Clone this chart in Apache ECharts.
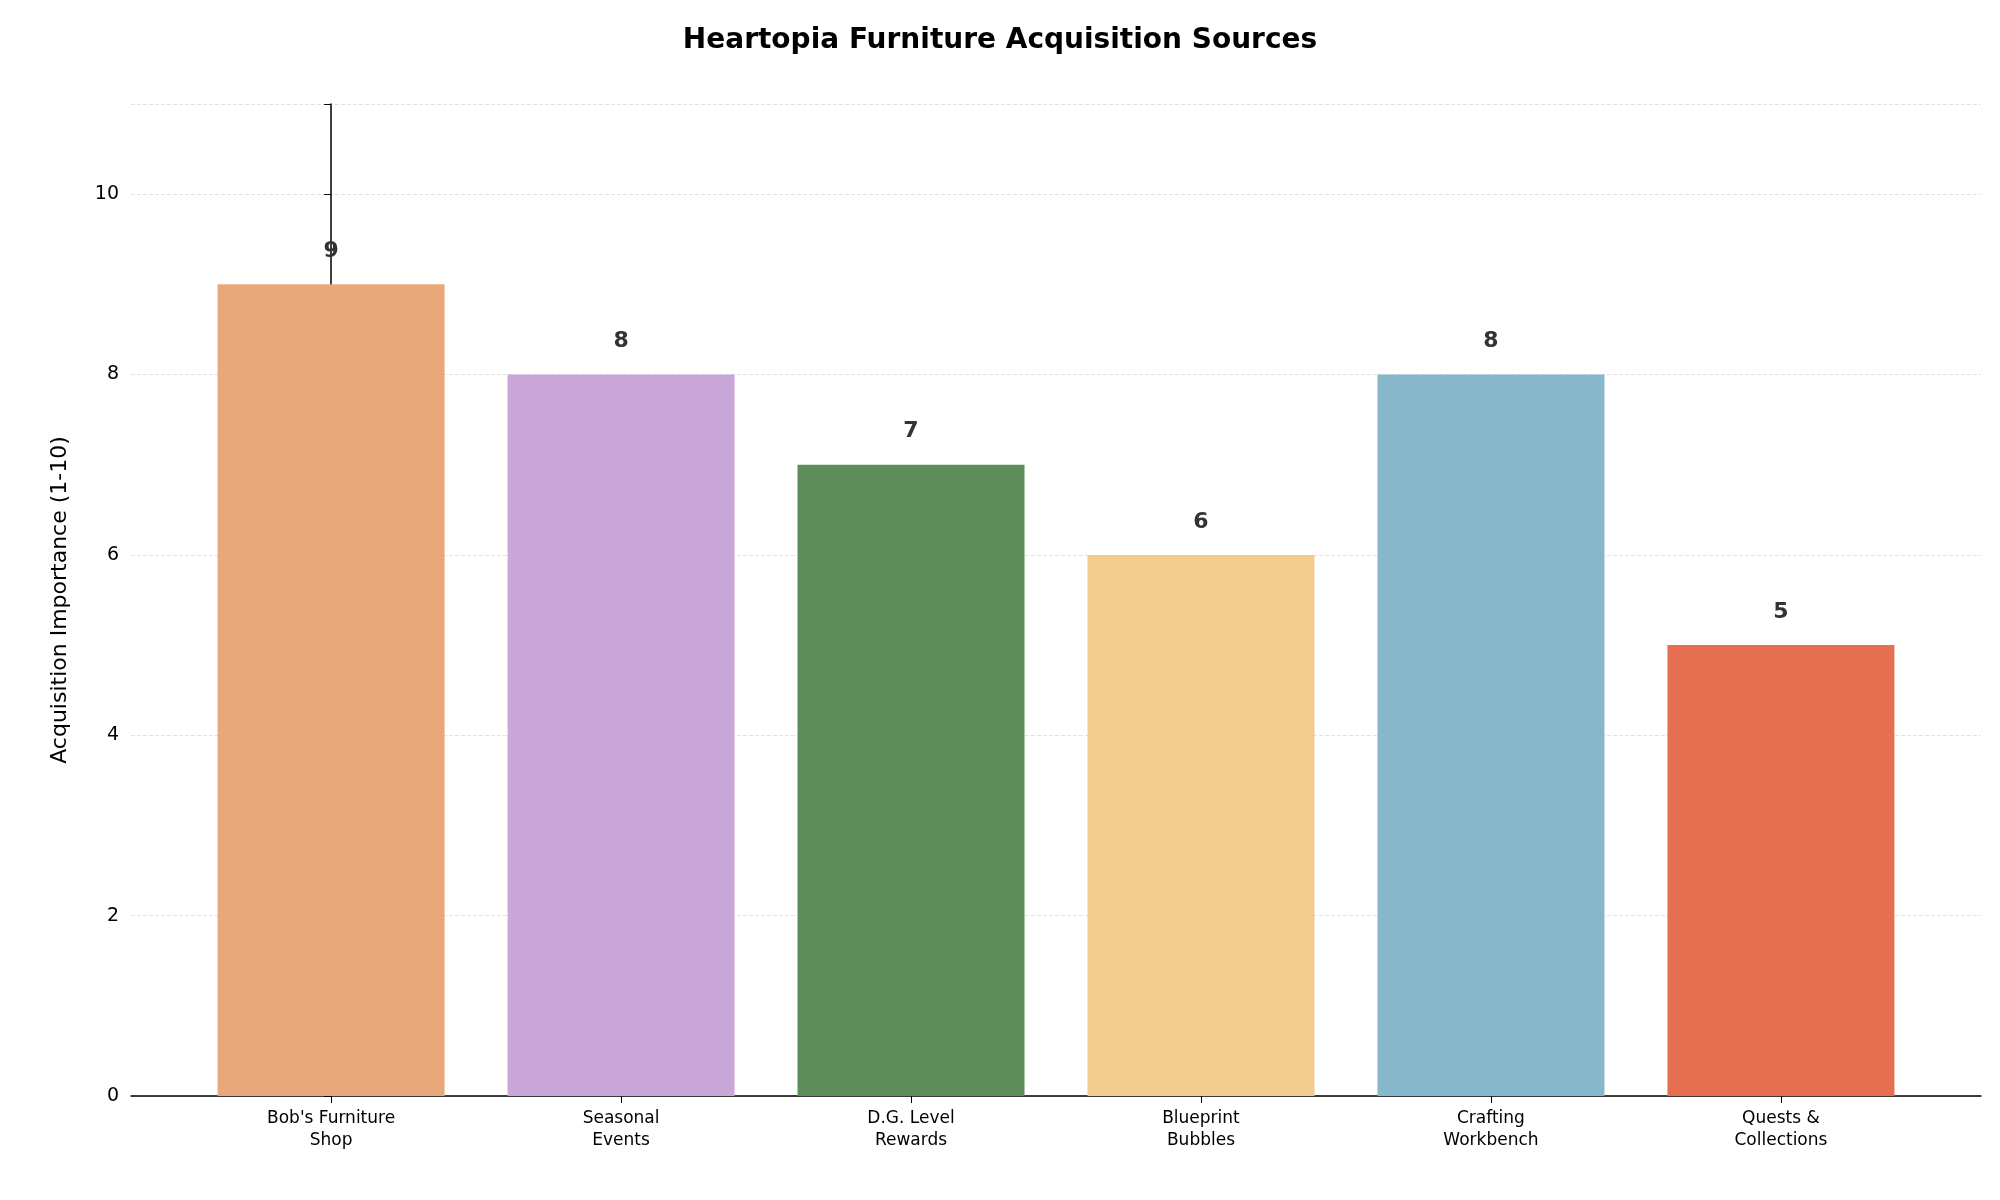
<!DOCTYPE html><html><head><meta charset="utf-8"><script src="https://cdn.jsdelivr.net/npm/echarts@6/dist/echarts.min.js"></script>
<style>html,body{margin:0}#c{width:2000px;height:1200px}</style></head><body><div id="c"></div><script>
const categories=["Bob's Furniture\nShop","Seasonal\nEvents","D.G. Level\nRewards","Blueprint\nBubbles","Crafting\nWorkbench","Quests &\nCollections"];
const values=[9,8,7,6,8,5];
const colors=['#E8A87C','#C9A7D8','#5E8C5B','#F2CC8F','#86B7CB','#E76F51'];
const idx=categories.map((_,i)=>i);
const ch=echarts.init(document.getElementById('c'));
ch.setOption({
title:{text:'Heartopia Furniture Acquisition Sources',left:'center',top:22,textStyle:{fontFamily:'DejaVu Sans',fontWeight:'bold',fontSize:28,color:'#000'}},
grid:{left:131,right:19,top:104,bottom:104},
xAxis:{type:'value',min:-0.69,max:5.69,splitLine:{show:false},
 axisLine:{lineStyle:{color:'#000',width:1.5}},
 axisTick:{customValues:idx,length:7,lineStyle:{color:'#000'}},
 axisLabel:{customValues:idx,formatter:v=>categories[Math.round(v)],fontFamily:'DejaVu Sans',fontSize:17,color:'#000',lineHeight:22,margin:12}},
yAxis:{type:'value',min:0,max:11,interval:2,name:'Acquisition Importance (1-10)',nameLocation:'middle',nameGap:60,
 nameTextStyle:{fontFamily:'DejaVu Sans',fontSize:22,color:'#000'},
 axisLabel:{fontFamily:'DejaVu Sans',fontSize:19,color:'#000',margin:12,formatter:v=>v>10?'':v},
 axisLine:{show:true,lineStyle:{color:'#000',width:1.5}},axisTick:{show:true,length:7,lineStyle:{color:'#000'}},
 splitLine:{lineStyle:{type:'dashed',color:'#e3e3e3'}}},
series:[{type:'bar',barWidth:227,data:values.map((v,i)=>({value:[i,v],itemStyle:{color:colors[i]}})),
 label:{show:true,position:'top',distance:22,formatter:p=>p.value[1],fontFamily:'DejaVu Sans',fontWeight:'bold',fontSize:22,color:'#333'}}]
});
</script></body></html>
